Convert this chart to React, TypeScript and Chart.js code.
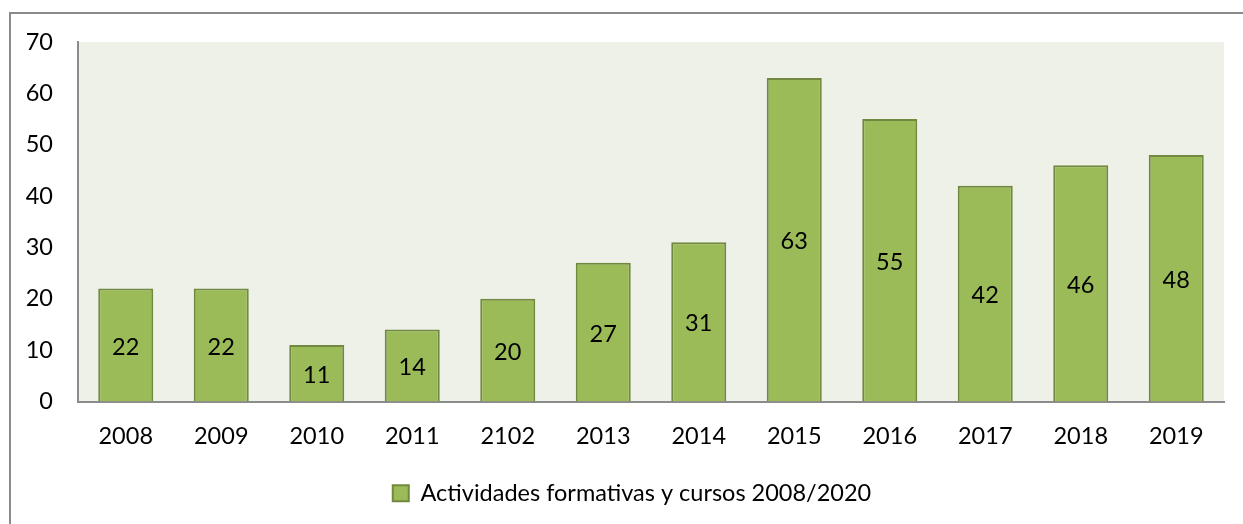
import React, { useEffect, useRef } from "react";
import { Chart, registerables } from "chart.js";

Chart.register(...registerables);

const categories = ["2008", "2009", "2010", "2011", "2102", "2013", "2014", "2015", "2016", "2017", "2018", "2019"];
const values = [22, 22, 11, 14, 20, 27, 31, 63, 55, 42, 46, 48];
const seriesLabel = "Actividades formativas y cursos 2008/2020";
const yTicks = [0, 10, 20, 30, 40, 50, 60, 70];

const FONT = "Lato, Carlito, Calibri, sans-serif";
const FS = 23.5;
const BAR_FILL = "#9BBB59";
const BAR_BORDER = "#71893F";
const PLOT_BG = "#EEF1E8";
const AXIS = "#8C8C8C";

const bgPlugin = {
  id: "bgPlugin",
  afterLayout(chart: any) {
    const lg = chart.legend;
    if (lg) {
      lg.left += 20;
      lg.right += 20;
    }
  },
  beforeDraw(chart: any) {
    const { ctx, chartArea } = chart;
    ctx.save();
    ctx.fillStyle = "#ffffff";
    ctx.fillRect(0, 0, chart.width, chart.height);
    ctx.strokeStyle = "#8A8A8A";
    ctx.lineWidth = 2;
    ctx.strokeRect(10, 13, chart.width + 20, chart.height + 40);
    ctx.fillStyle = PLOT_BG;
    ctx.fillRect(chartArea.left, chartArea.top, chartArea.right - chartArea.left, chartArea.bottom - chartArea.top);
    ctx.restore();
  },
};

const valueLabels = {
  id: "valueLabels",
  afterDatasetsDraw(chart: any) {
    const { ctx } = chart;
    const meta = chart.getDatasetMeta(0);
    ctx.save();
    ctx.fillStyle = "#000000";
    ctx.font = `${FS}px ${FONT}`;
    ctx.textAlign = "center";
    ctx.textBaseline = "middle";
    meta.data.forEach((el: any, i: number) => {
      const v = chart.data.datasets[0].data[i];
      ctx.fillText(String(v), el.x, (el.y + el.base) / 2 + 2);
    });
    ctx.restore();
  },
};

export default function App() {
  const ref = useRef<HTMLCanvasElement>(null);
  useEffect(() => {
    if (!ref.current) return;
    const chart = new Chart(ref.current, {
      type: "bar",
      data: {
        labels: categories,
        datasets: [
          {
            label: seriesLabel,
            data: values,
            backgroundColor: BAR_FILL,
            borderColor: BAR_BORDER,
            borderWidth: 2,
            barPercentage: 0.576,
            categoryPercentage: 1,
          },
        ],
      },
      options: {
        responsive: false,
        animation: false,
        layout: { padding: { top: 42, right: 19, left: 0, bottom: 9 } },
        plugins: {
          tooltip: { enabled: false },
          legend: {
            position: "bottom",
            labels: {
              color: "#000",
              font: { family: FONT, size: FS },
              boxWidth: 16,
              boxHeight: 16,
              padding: 10,
            },
          },
        },
        scales: {
          x: {
            grid: { display: false, drawTicks: false },
            border: { display: true, color: AXIS, width: 2 },
            ticks: { color: "#000", font: { family: FONT, size: FS }, padding: 21 },
            afterFit(scale: any) {
              scale.height = 70;
            },
          },
          y: {
            min: 0,
            max: 70,
            afterBuildTicks(scale: any) {
              scale.ticks = yTicks.map((v) => ({ value: v }));
            },
            grid: { display: false, drawTicks: false },
            border: { display: true, color: AXIS, width: 2 },
            ticks: { color: "#000", font: { family: FONT, size: FS }, padding: 25 },
            afterFit(scale: any) {
              scale.width = 78;
            },
          },
        },
      },
      plugins: [bgPlugin, valueLabels],
    } as any);
    return () => chart.destroy();
  }, []);
  return (
    <div style={{ position: "fixed", left: 0, top: 0, width: 1243, height: 524 }}>
      <canvas ref={ref} width={1243} height={524} />
    </div>
  );
}
